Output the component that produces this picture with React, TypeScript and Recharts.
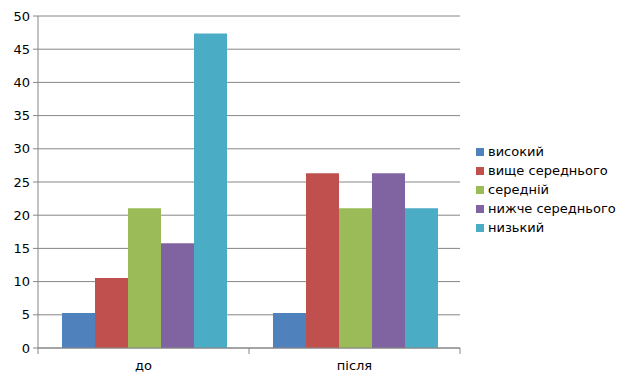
import { BarChart, Bar, XAxis, YAxis, CartesianGrid } from 'recharts';

const categories = ['до', 'після'];
const seriesNames = ['високий', 'вище середнього', 'середній', 'нижче середнього', 'низький'];
const seriesColors = ['#4F81BD', '#C0504D', '#9BBB59', '#8064A2', '#4BACC6'];
// one array per series, values for [до, після]
const vysokyi = [5.26, 5.26];
const vyshcheSerednoho = [10.53, 26.32];
const serednii = [21.05, 21.05];
const nyzhcheSerednoho = [15.79, 26.32];
const nyzkyi = [47.37, 21.05];
const yTicks = [0, 5, 10, 15, 20, 25, 30, 35, 40, 45, 50];

const seriesValues = [vysokyi, vyshcheSerednoho, serednii, nyzhcheSerednoho, nyzkyi];
const data = categories.map((cat, i) => {
    const row: any = { name: cat };
    seriesNames.forEach((s, j) => { row['s' + j] = seriesValues[j][i]; });
    return row;
});

const FONT = '"DejaVu Sans", sans-serif';
const AXIS = '#868686';

function CategoryTick(props: any) {
    const { x, y, payload, index } = props;
    const half = 211 / 2;
    return (
        <g>
            <line x1={x - half} y1={y - 8} x2={x - half} y2={y - 2} stroke={AXIS} />
            {index === categories.length - 1 && (
                <line x1={x + half} y1={y - 8} x2={x + half} y2={y - 2} stroke={AXIS} />
            )}
            <text x={x} y={y + 14} textAnchor="middle" fontSize={13} fill="#000" fontFamily={FONT}>
                {payload.value}
            </text>
        </g>
    );
}

function LegendBox() {
    return (
        <div style={{ position: 'absolute', left: 476, top: 142, fontFamily: FONT, fontSize: 13, color: '#000' }}>
            {seriesNames.map((s, i) => (
                <div key={s} style={{ display: 'flex', alignItems: 'center', height: 19, whiteSpace: 'nowrap' }}>
                    <span style={{ width: 8, height: 8, background: seriesColors[i], display: 'inline-block', marginRight: 4 }} />
                    <span>{s}</span>
                </div>
            ))}
        </div>
    );
}

export default function App() {
    return (
        <div style={{ position: 'absolute', left: 0, top: 0, width: 629, height: 380, background: '#fff' }}>
            <BarChart
                width={629}
                height={380}
                data={data}
                margin={{ top: 16, right: 169, bottom: 0, left: 0 }}
                barCategoryGap={24}
                barGap={0}
            >
                <CartesianGrid vertical={false} stroke={AXIS} strokeWidth={1} />
                <XAxis
                    dataKey="name"
                    height={32}
                    stroke={AXIS}
                    tickLine={false}
                    tick={<CategoryTick />}
                    interval={0}
                />
                <YAxis
                    width={38}
                    domain={[0, 50]}
                    ticks={yTicks}
                    stroke={AXIS}
                    tickSize={5}
                    tickMargin={3}
                    tick={{ fontSize: 13, fill: '#000', fontFamily: FONT }}
                    interval={0}
                />
                {seriesNames.map((s, i) => (
                    <Bar key={s} dataKey={'s' + i} name={s} fill={seriesColors[i]} isAnimationActive={false} />
                ))}
            </BarChart>
            <LegendBox />
        </div>
    );
}
